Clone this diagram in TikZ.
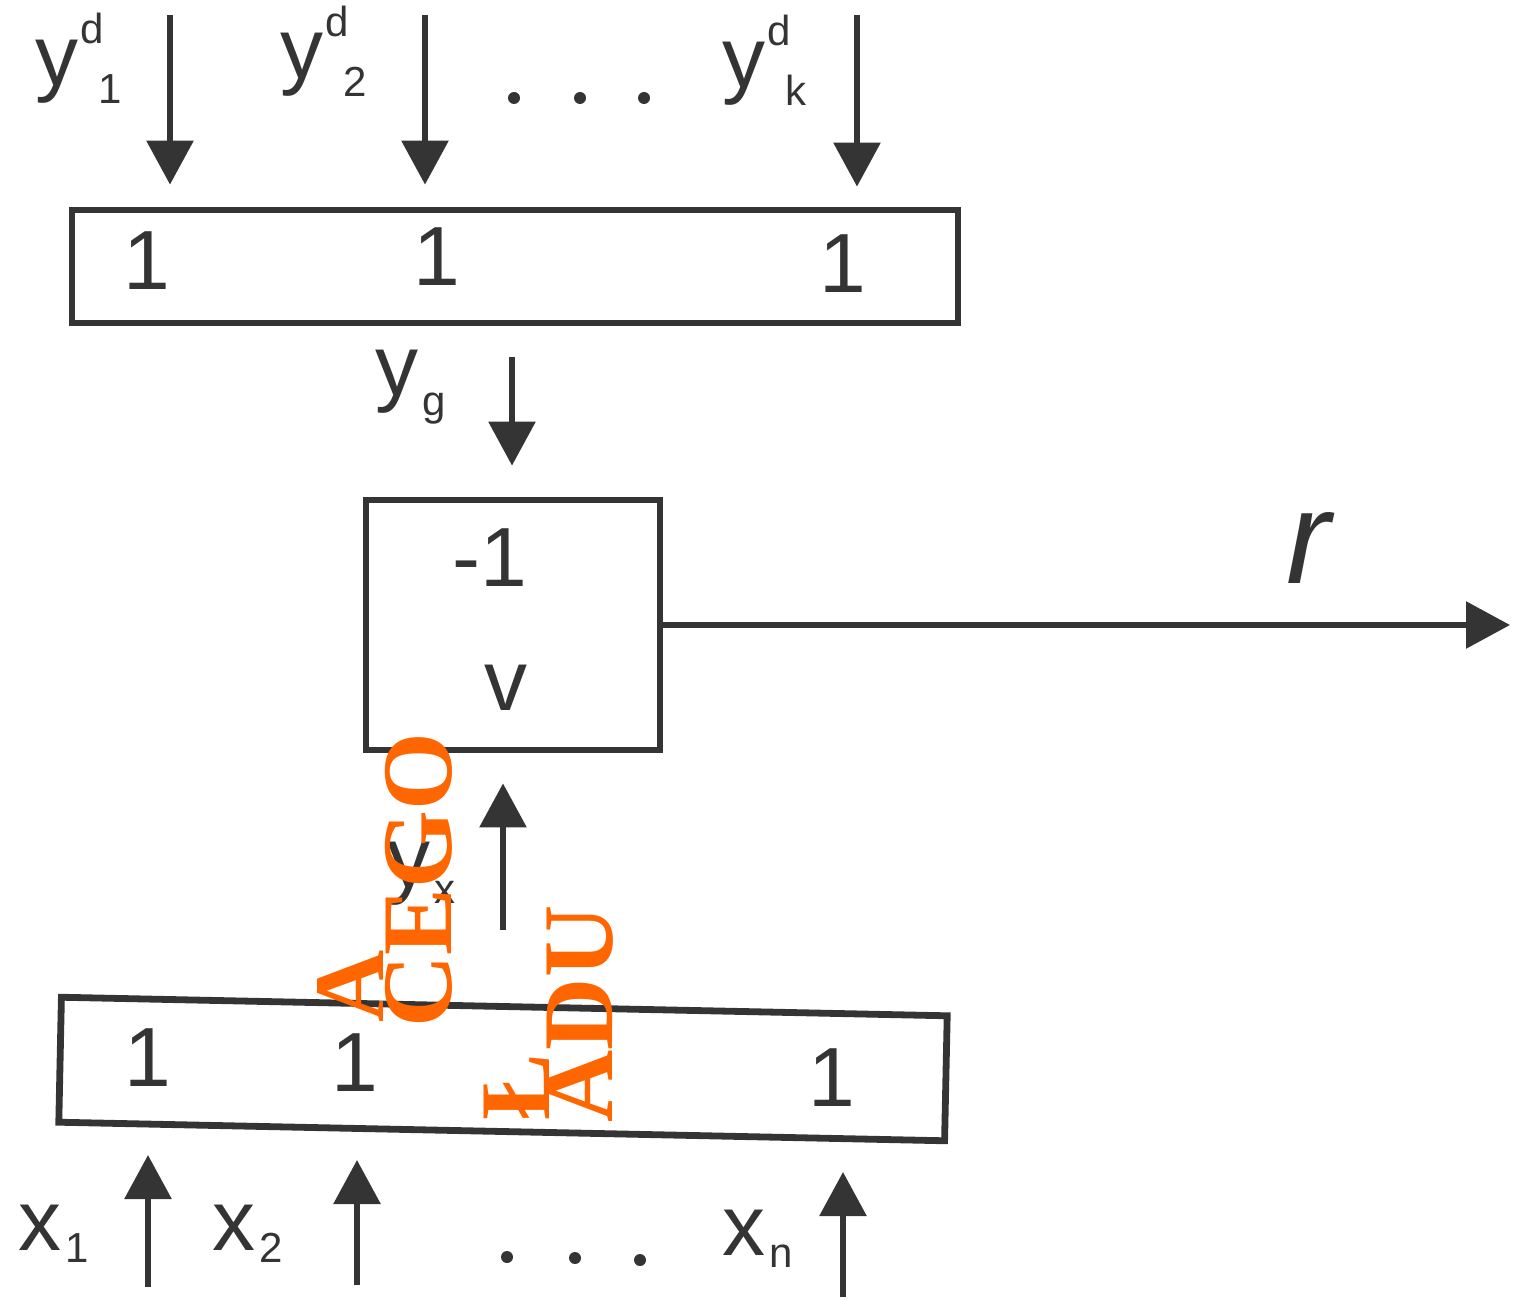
\documentclass[tikz,border=0pt]{standalone}
\usepackage{fontspec}
\setmainfont{Liberation Sans}
\newfontfamily\wmserif{Liberation Serif}
\usetikzlibrary{arrows.meta}
\definecolor{ink}{RGB}{52,52,52}
\definecolor{wm}{RGB}{255,102,0}
\newcommand\smallsz{\fontsize{21}{21}\selectfont}
\newcommand\ysupsub[3]{#1\kern1pt\rlap{\raisebox{21pt}{\smallsz #2}}\hspace{9pt}\raisebox{-9pt}{\smallsz #3}}
\newcommand\ysub[3]{#1\hspace{2pt}\raisebox{#3}{\smallsz #2}}
\begin{document}
\begin{tikzpicture}[x=0.5pt,y=-0.5pt,
  arr/.style={-{Triangle[width=23pt,length=22pt]}, line width=3pt, draw=ink},
  boxs/.style={draw=ink, line width=3.4pt, inner sep=0pt},
  lab/.style={font=\fontsize{43}{43}\selectfont, inner sep=0pt, text=ink},
  num/.style={font=\fontsize{42}{42}\selectfont, inner sep=0pt, text=ink},
  wmk/.style={font=\wmserif\bfseries\fontsize{50}{50}\selectfont, text=wm, rotate=90, inner sep=0pt}]
\useasboundingbox (0,0) rectangle (1515,1300);

% top layer
\node[boxs, minimum width=443pt, minimum height=56.5pt] (top) at (515,266.5) {};
\node[num] (t1) at (147,261) {1};
\node[num] (t2) at (437,257) {1};
\node[num] (t3) at (843,264) {1};

\coordinate (ya1) at (170,15);
\coordinate (ya2) at (425,15);
\coordinate (yak) at (857,15);
\draw[arr, shorten >=11pt] (ya1) -- (ya1 |- top.north);
\draw[arr, shorten >=11pt] (ya2) -- (ya2 |- top.north);
\draw[arr, shorten >=10pt] (yak) -- (yak |- top.north);

\node[lab, anchor=base west] (ly1) at (35,86) {\ysupsub{y}{d}{1}};
\node[lab, anchor=base west] (ly2) at (280,79) {\ysupsub{y}{d}{2}};
\node[lab, anchor=base west] (lyk) at (722,88) {\ysupsub{y}{d}{k}};
\fill[ink] (514,98) circle (3pt) (580,98) circle (3pt) (644,98) circle (3pt);

% middle unit
\node[boxs, minimum width=147pt, minimum height=125pt] (mid) at (513,625) {};
\node[num] (m1) at (490,558) {-1};
\node[lab] (mv) at (506,688) {v};

\coordinate (yg0) at (512,357);
\draw[arr, shorten >=15.5pt] (yg0) -- (yg0 |- mid.north);
\node[lab, anchor=base west] (lyg) at (375,395) {\ysub{y}{g}{-10pt}};

\coordinate (rout) at (1510,625);
\draw[arr] (mid.east) -- (rout);
\node[font=\itshape\fontsize{66}{66}\selectfont, anchor=base west, inner sep=0pt, text=ink] (lr) at (1286,583) {r};

\coordinate (yx0) at (503,930);
\draw[arr, shorten >=15pt] (yx0) -- (yx0 |- mid.south);
\node[lab, anchor=base west] (lyx) at (387,887) {\ysub{y}{x}{-8pt}};

% bottom layer
\node[boxs, rotate=-1.2, minimum width=443pt, minimum height=62.5pt] (bot) at (503,1069) {};
\node[num] (b1) at (148,1058) {1};
\node[num] (b2) at (355,1063) {1};
\node[num] (b3) at (832,1078) {1};

\coordinate (xs1) at (148,1287); \coordinate (xe1) at (148,1155);
\coordinate (xs2) at (357,1285); \coordinate (xe2) at (357,1160);
\coordinate (xsn) at (843,1297); \coordinate (xen) at (843,1172);
\draw[arr] (xs1) -- (xe1);
\draw[arr] (xs2) -- (xe2);
\draw[arr] (xsn) -- (xen);

\node[lab, anchor=base west] (lx1) at (18,1250) {\ysub{x}{1}{-6pt}};
\node[lab, anchor=base west] (lx2) at (212,1250) {\ysub{x}{2}{-6pt}};
\node[lab, anchor=base west] (lxn) at (722,1255) {\ysub{x}{n}{-6pt}};
\fill[ink] (507,1257) circle (3pt) (575,1258) circle (3pt) (640,1260) circle (3pt);

% orange overlay text
\node[wmk] (w1) at (350,986) {A};
\node[wmk] (w2) at (419,880) {CEGO};
\node[wmk] (w3) at (517,1087) {Ł};
\node[wmk] (w4) at (580,1014) {ADU};
\end{tikzpicture}
\end{document}
